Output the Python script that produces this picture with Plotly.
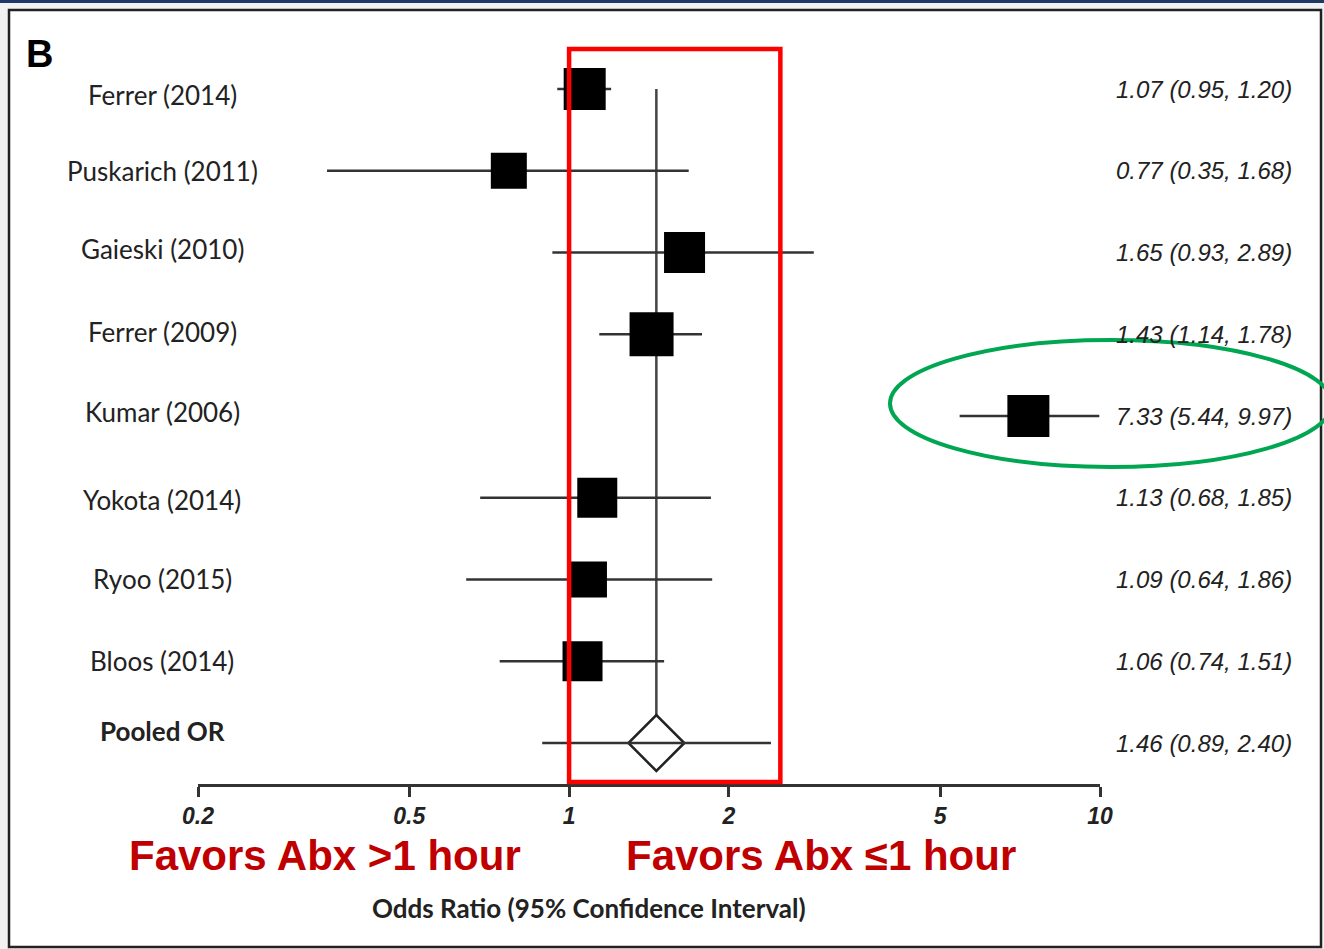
import math
import plotly.graph_objects as go

# Study-level odds ratios (95% CI) for early antibiotics
studies = ["Ferrer (2014)", "Puskarich (2011)", "Gaieski (2010)", "Ferrer (2009)",
           "Kumar (2006)", "Yokota (2014)", "Ryoo (2015)", "Bloos (2014)"]
odds_ratio = [1.07, 0.77, 1.65, 1.43, 7.33, 1.13, 1.09, 1.06]
ci_low = [0.95, 0.35, 0.93, 1.14, 5.44, 0.68, 0.64, 0.74]
ci_high = [1.20, 1.68, 2.89, 1.78, 9.97, 1.85, 1.86, 1.51]

pooled_label = "Pooled OR"
pooled_or = 1.46
pooled_low = 0.89
pooled_high = 2.40

tick_values = [0.2, 0.5, 1, 2, 5, 10]
tick_labels = ["0.2", "0.5", "1", "2", "5", "10"]

# highlighted OR band
band_low, band_high = 1, 2.5

# ---- styling ----
W, H = 1324, 949
box_px = [42, 36, 41, 44, 42, 40, 36, 40]          # study weight boxes
label_dy = [-6, 0, 4, 2, 4, -2, 1, 0, 12]           # nudges of row labels (px, up = +)
INK = "#333333"
LBL_FONT = "Lato"
NUM_FONT = "Liberation Sans"

n = len(studies)
rows = list(range(n))
pooled_row = n


def py(px):
    return 1 - px / H


def px_x(px):
    return px / W


# row index -> pixel: 89 + 81.75 * i
row0, row_step = 89.0, 81.75
y_top = -row0 / row_step
y_bot = (H - row0) / row_step

fig = go.Figure()

# reference line at pooled estimate
fig.add_trace(go.Scatter(
    x=[pooled_or, pooled_or], y=[0, pooled_row], mode="lines",
    line=dict(color="#444444", width=2.5), hoverinfo="skip", showlegend=False))

# study CIs + boxes
fig.add_trace(go.Scatter(
    x=odds_ratio, y=rows, mode="markers",
    marker=dict(symbol="square", size=box_px, color="black", opacity=1, line=dict(width=0)),
    error_x=dict(type="data", symmetric=False,
                 array=[h - o for h, o in zip(ci_high, odds_ratio)],
                 arrayminus=[o - l for o, l in zip(odds_ratio, ci_low)],
                 color=INK, thickness=2.5, width=0),
    hoverinfo="skip", showlegend=False))

# pooled diamond (white fill hides the reference line inside)
fig.add_trace(go.Scatter(
    x=[pooled_or], y=[pooled_row], mode="markers",
    marker=dict(symbol="diamond", size=43, color="white", opacity=1,
                line=dict(color="#222222", width=2.5)),
    hoverinfo="skip", showlegend=False))
# pooled CI line drawn across the diamond
fig.add_trace(go.Scatter(
    x=[pooled_low, pooled_high], y=[pooled_row, pooled_row], mode="lines",
    line=dict(color=INK, width=2.5), hoverinfo="skip", showlegend=False))

annotations = []
all_labels = studies + [pooled_label]
all_text = [f"{o:.2f} ({l:.2f}, {h:.2f})" for o, l, h in zip(odds_ratio, ci_low, ci_high)]
all_text.append(f"{pooled_or:.2f} ({pooled_low:.2f}, {pooled_high:.2f})")

for i, (lab, txt) in enumerate(zip(all_labels, all_text)):
    bold = lab == pooled_label
    annotations.append(dict(
        x=px_x(162), xref="paper", y=i, yref="y", yshift=label_dy[i],
        text=f"<b>{lab}</b>" if bold else lab, showarrow=False,
        xanchor="center", yanchor="middle",
        font=dict(family=LBL_FONT, size=26, color="#222222")))
    annotations.append(dict(
        x=px_x(1294), xref="paper", y=i, yref="y",
        text=txt, showarrow=False, xanchor="right", yanchor="middle",
        font=dict(family=NUM_FONT, size=24, color="#222222", style="italic")))

center = dict(showarrow=False, xanchor="center", yanchor="middle", xref="paper", yref="paper")
annotations += [
    dict(x=px_x(39), y=py(54), text="<b>B</b>",
         font=dict(family="Liberation Sans", size=38, color="black"), **center),
    dict(x=px_x(325), y=py(855), text="<b>Favors Abx &gt;1 hour</b>",
         font=dict(family="Liberation Sans", size=42, color="#C00000"), **center),
    dict(x=px_x(821), y=py(855), text="<b>Favors Abx ≤1 hour</b>",
         font=dict(family="Liberation Sans", size=42, color="#C00000"), **center),
    dict(x=px_x(589), y=py(908), text="<b>Odds Ratio (95% Confidence Interval)</b>",
         font=dict(family=LBL_FONT, size=26, color="#222222"), **center),
]

shapes = [
    # slide frame
    dict(type="rect", xref="paper", yref="paper", x0=px_x(9), x1=px_x(1321), y0=py(947), y1=py(10),
         line=dict(color="#222222", width=2.5), fillcolor="white", layer="below"),
    dict(type="rect", xref="paper", yref="paper", x0=0, x1=1, y0=py(3), y1=1,
         line=dict(width=0), fillcolor="#203864", layer="below"),
    # highlighted band
    dict(type="rect", xref="x", yref="paper", x0=band_low, x1=band_high, y0=py(782), y1=py(49),
         line=dict(color="#FF0000", width=4.5)),
    # callout ellipse
    dict(type="circle", xref="paper", yref="paper", x0=px_x(890), x1=px_x(1332),
         y0=py(467), y1=py(340), line=dict(color="#00A651", width=4)),
]

fig.update_layout(
    width=W, height=H, margin=dict(l=0, r=0, t=0, b=0, autoexpand=False),
    paper_bgcolor="#f2f2f2", plot_bgcolor="rgba(0,0,0,0)",
    showlegend=False, annotations=annotations, shapes=shapes,
    xaxis=dict(type="log", domain=[px_x(198), px_x(1100)],
               range=[math.log10(0.2), math.log10(10)],
               anchor="free", position=py(785),
               showline=True, linecolor=INK, linewidth=2.5,
               ticks="outside", ticklen=10, tickwidth=2.5, tickcolor=INK,
               tickvals=tick_values, ticktext=tick_labels,
               tickfont=dict(family=NUM_FONT, size=23, color="#222222", style="italic", weight="bold"),
               showgrid=False, zeroline=False, fixedrange=True),
    yaxis=dict(range=[y_bot, y_top], domain=[0, 1], visible=False, fixedrange=True),
)

fig.write_html("out.html")
